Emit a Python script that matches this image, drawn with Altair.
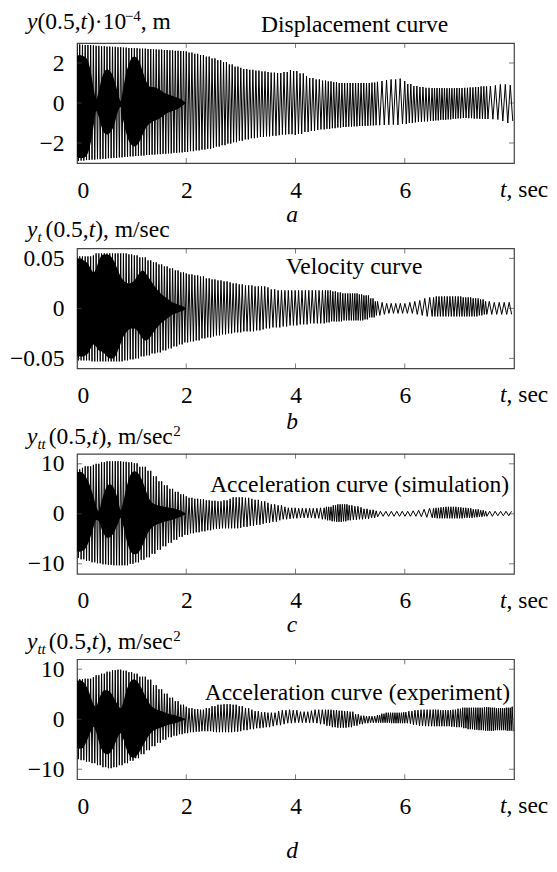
import altair as alt
import pandas as pd

# ---------------- data ----------------
T_ENV = [round(i * 0.1, 1) for i in range(81)]      # envelope sample times (s)
T_IN = [round(i * 0.05, 2) for i in range(41)]      # inner dense-band sample times (s)

# Panel a: displacement (x1e-4 m)
UA = [2.93,2.91,2.90,2.88,2.86,2.84,2.82,2.81,2.79,2.77,
      2.75,2.74,2.72,2.70,2.68,2.67,2.65,2.63,2.61,2.60,
      2.58,2.52,2.46,2.40,2.32,2.23,2.14,2.04,1.93,1.82,
      1.76,1.70,1.66,1.62,1.58,1.55,1.52,1.50,1.55,1.65,
      1.60,1.48,1.35,1.25,1.18,1.12,1.08,1.04,1.00,1.00,
      1.00,1.00,1.00,1.00,1.02,1.06,1.10,1.15,1.18,1.22,
      1.10,0.95,0.85,0.80,0.76,0.75,0.75,0.75,0.74,0.74,
      0.75,0.76,0.78,0.80,0.83,0.83,0.84,0.88,0.93,0.90,
      0.85]
LA = [-2.90,-2.88,-2.85,-2.83,-2.81,-2.79,-2.76,-2.74,-2.72,-2.69,
      -2.67,-2.65,-2.63,-2.60,-2.58,-2.56,-2.54,-2.52,-2.49,-2.47,
      -2.45,-2.41,-2.37,-2.33,-2.29,-2.25,-2.18,-2.11,-2.03,-1.96,
      -1.89,-1.82,-1.76,-1.73,-1.70,-1.67,-1.64,-1.61,-1.58,-1.56,
      -1.60,-1.55,-1.45,-1.40,-1.35,-1.32,-1.29,-1.26,-1.23,-1.20,
      -1.18,-1.17,-1.15,-1.14,-1.12,-1.11,-1.10,-1.09,-1.08,-1.10,
      -1.05,-1.00,-0.97,-0.94,-0.92,-0.89,-0.87,-0.84,-0.82,-0.79,
      -0.77,-0.75,-0.76,-0.78,-0.79,-0.80,-0.81,-0.83,-0.90,-1.00,
      -0.90]
IUA = [2.35,2.4,2.35,2.3,2.1,1.6,0.8,0.2,0.6,1.2,
       1.55,1.67,1.6,1.4,1.0,0.5,0.1,0.8,1.5,1.95,
       2.25,2.33,2.25,2.0,1.6,1.2,0.9,0.8,0.8,0.75,
       0.7,0.6,0.5,0.45,0.4,0.35,0.3,0.25,0.2,0.1,
       0.0]
ILA = [-2.7,-2.75,-2.75,-2.7,-2.5,-2.0,-1.2,-0.4,-0.7,-1.2,
       -1.5,-1.58,-1.5,-1.3,-0.9,-0.4,-0.2,-0.9,-1.5,-1.9,
       -2.1,-2.17,-2.1,-1.9,-1.6,-1.3,-1.1,-1.0,-0.9,-0.85,
       -0.8,-0.7,-0.6,-0.5,-0.45,-0.4,-0.35,-0.3,-0.2,-0.1,
       0.0]
FA = [20,20,20,20,19,19,18,17,17,20,20,12,18,22,20,11]   # cycles/s per 0.5 s

# Panel b: velocity (m/s)
UB = [0.052,0.052,0.052,0.053,0.055,0.055,0.055,0.055,0.055,0.055,
      0.054,0.053,0.051,0.048,0.046,0.044,0.042,0.040,0.038,0.036,
      0.035,0.034,0.033,0.032,0.030,0.029,0.028,0.027,0.026,0.025,
      0.024,0.023,0.023,0.022,0.022,0.021,0.019,0.018,0.018,0.018,
      0.018,0.018,0.018,0.018,0.018,0.018,0.018,0.017,0.016,0.015,
      0.015,0.015,0.014,0.013,0.010,0.007,0.006,0.005,0.005,0.005,
      0.005,0.006,0.007,0.008,0.010,0.011,0.012,0.012,0.012,0.012,
      0.012,0.011,0.011,0.010,0.009,0.007,0.006,0.006,0.006,0.006,
      0.006]
LB = [-0.052,-0.052,-0.052,-0.053,-0.053,-0.053,-0.053,-0.053,-0.053,-0.052,
      -0.051,-0.050,-0.048,-0.047,-0.045,-0.044,-0.042,-0.040,-0.038,-0.036,
      -0.034,-0.033,-0.032,-0.030,-0.029,-0.028,-0.027,-0.026,-0.025,-0.024,
      -0.024,-0.023,-0.023,-0.022,-0.021,-0.020,-0.019,-0.019,-0.018,-0.017,
      -0.017,-0.016,-0.016,-0.015,-0.015,-0.015,-0.014,-0.013,-0.013,-0.012,
      -0.012,-0.012,-0.012,-0.011,-0.009,-0.007,-0.006,-0.005,-0.005,-0.005,
      -0.005,-0.005,-0.006,-0.007,-0.008,-0.008,-0.008,-0.008,-0.008,-0.008,
      -0.008,-0.008,-0.008,-0.008,-0.007,-0.006,-0.006,-0.006,-0.006,-0.006,
      -0.006]
IUB = [0.05,0.05,0.049,0.047,0.045,0.04,0.036,0.04,0.048,0.053,
       0.054,0.054,0.053,0.05,0.045,0.038,0.032,0.028,0.026,0.025,
       0.026,0.028,0.032,0.036,0.038,0.036,0.032,0.028,0.024,0.02,
       0.017,0.014,0.012,0.01,0.008,0.006,0.005,0.004,0.003,0.002,
       0.0]
ILB = [-0.048,-0.048,-0.048,-0.047,-0.045,-0.04,-0.036,-0.038,-0.042,-0.043,
       -0.045,-0.048,-0.05,-0.05,-0.048,-0.042,-0.035,-0.028,-0.024,-0.021,
       -0.02,-0.02,-0.022,-0.026,-0.03,-0.032,-0.031,-0.028,-0.024,-0.02,
       -0.017,-0.014,-0.012,-0.01,-0.008,-0.006,-0.005,-0.004,-0.003,-0.002,
       0.0]
FB = [20,20,20,20,19,18,17,16,16,22,24,12,11,20,22,11]

# Panel c: acceleration, simulation (m/s^2)
UC = [8.9,9.2,9.5,9.8,10.0,10.3,10.5,10.5,10.5,10.4,
      10.3,10.1,9.4,8.6,7.5,6.5,5.7,5.0,4.4,3.9,
      3.5,3.2,3.0,2.9,2.7,2.6,2.5,2.7,3.0,3.3,
      3.3,3.2,3.0,2.8,2.5,2.2,1.9,1.7,1.4,1.2,
      1.2,1.1,1.1,1.1,1.1,1.2,1.4,1.7,1.9,1.9,
      1.7,1.5,1.3,1.0,0.8,0.6,0.5,0.5,0.5,0.5,
      0.5,0.5,0.6,0.7,0.9,1.1,1.2,1.3,1.4,1.4,
      1.3,1.2,1.1,0.9,0.7,0.5,0.5,0.5,0.5,0.5,
      0.5]
LC = [-8.8,-9.1,-9.4,-9.7,-9.9,-10.1,-10.2,-10.3,-10.3,-10.3,
      -10.0,-9.7,-9.2,-8.7,-8.0,-7.2,-6.5,-5.8,-5.2,-4.6,
      -4.2,-3.9,-3.7,-3.5,-3.3,-3.1,-3.0,-2.9,-2.9,-2.9,
      -2.8,-2.6,-2.4,-2.2,-2.0,-1.8,-1.6,-1.3,-1.1,-1.0,
      -0.9,-0.8,-0.8,-0.8,-0.9,-1.1,-1.3,-1.5,-1.6,-1.5,
      -1.3,-1.2,-1.1,-1.0,-0.8,-0.6,-0.5,-0.5,-0.5,-0.5,
      -0.5,-0.5,-0.5,-0.6,-0.7,-0.8,-0.9,-0.9,-0.9,-0.9,
      -0.9,-0.8,-0.8,-0.7,-0.6,-0.5,-0.5,-0.4,-0.4,-0.4,
      -0.4]
IUC = [8.3,8.4,8.2,7.6,6.6,5.2,3.5,1.5,0.5,2.5,
       4.3,5.5,5.9,5.6,4.5,2.8,0.8,2.5,5.0,7.0,
       8.2,8.5,8.3,7.6,6.5,5.0,3.5,2.5,2.0,1.8,
       1.6,1.5,1.4,1.3,1.2,1.1,1.0,0.8,0.6,0.3,
       0.0]
ILC = [-7.5,-7.6,-7.4,-7.0,-6.0,-4.5,-2.8,-1.2,-1.5,-3.0,
       -4.2,-4.8,-4.7,-4.2,-3.2,-2.0,-0.8,-2.5,-5.0,-6.8,
       -7.8,-8.1,-8.0,-7.4,-6.3,-5.0,-3.8,-3.0,-2.5,-2.2,
       -2.0,-1.8,-1.6,-1.5,-1.3,-1.2,-1.0,-0.8,-0.6,-0.3,
       0.0]
FC = [20,20,20,20,19,18,17,16,15,24,18,10,10,22,22,10]

# Panel d: acceleration, experiment (m/s^2)
UD = [8.0,8.0,8.1,8.4,8.8,9.1,9.5,9.8,9.9,9.7,
      9.4,9.1,8.5,7.9,6.8,6.0,5.1,4.3,3.6,2.9,
      2.5,2.2,2.0,1.9,2.2,2.6,2.9,3.0,3.0,2.9,
      2.6,2.2,1.9,1.6,1.4,1.3,1.3,1.6,1.8,1.9,
      1.8,1.5,1.5,1.7,1.9,1.9,1.9,1.8,1.7,1.6,
      1.5,1.0,0.7,0.6,0.6,0.8,1.1,1.3,1.3,1.3,
      1.4,1.6,1.8,1.9,1.9,1.9,1.9,1.8,1.8,1.9,
      2.1,2.3,2.3,2.3,2.3,2.4,2.3,2.2,2.2,2.3,
      2.5]
LD = [-8.0,-8.2,-8.5,-8.8,-9.2,-9.6,-9.8,-9.6,-9.2,-8.8,
      -8.3,-7.8,-7.0,-6.2,-5.4,-4.7,-4.1,-3.6,-3.3,-3.0,
      -2.8,-2.6,-2.5,-2.4,-2.4,-2.5,-2.6,-2.6,-2.6,-2.5,
      -2.4,-2.2,-2.0,-1.8,-1.7,-1.6,-1.4,-1.2,-1.0,-0.8,
      -0.7,-0.7,-0.7,-0.7,-0.8,-1.0,-1.3,-1.6,-1.7,-1.7,
      -1.6,-1.3,-1.0,-0.8,-0.7,-0.7,-0.7,-0.7,-0.8,-0.8,
      -0.8,-0.9,-1.1,-1.3,-1.4,-1.4,-1.4,-1.4,-1.4,-1.5,
      -1.6,-1.8,-2.0,-2.1,-2.2,-2.3,-2.3,-2.2,-2.2,-2.3,
      -2.4]
IUD = [7.6,7.8,7.6,7.0,6.0,4.5,3.0,2.5,4.0,5.2,
       5.8,5.8,5.5,4.8,3.8,2.8,2.2,3.5,5.5,7.0,
       7.8,8.0,7.6,6.8,5.8,4.6,3.6,2.8,2.3,2.0,
       1.8,1.6,1.4,1.2,1.0,0.9,0.8,0.6,0.4,0.2,
       0.0]
ILD = [-5.7,-5.9,-5.8,-5.0,-3.8,-2.5,-1.5,-2.5,-4.5,-6.0,
       -6.8,-7.0,-6.8,-6.0,-4.8,-3.5,-2.8,-4.0,-5.8,-7.0,
       -7.6,-7.7,-7.2,-6.4,-5.4,-4.4,-3.5,-2.8,-2.3,-2.0,
       -1.8,-1.6,-1.4,-1.2,-1.0,-0.9,-0.8,-0.6,-0.4,-0.2,
       0.0]
FD = [20,20,20,20,19,18,17,15,15,20,20,25,18,22,25,28]

X_TICKS = [0, 2, 4, 6]

# ---------------- styling ----------------
FONT = "Liberation Serif"
FS = 23.5
SS = 15
W = 437
H = 120
BOX = "#444444"
LW = 1.0

NW = {'0':500,'1':500,'2':500,'3':500,'4':500,'5':500,'6':500,'7':500,'8':500,'9':500,
      '(':333,')':333,'.':250,',':250,' ':250,'\u00b7':250,'\u2212':564,'m':778,'/':278,
      's':389,'e':444,'c':444}
IW = {'y':444,'t':278}


def tw(s, italic, size):
    tab = IW if italic else NW
    return sum(tab.get(ch, 500) for ch in s) / 1000.0 * size


def rich(pieces, x0, base):
    """pieces: (text, italic, size, dy, dx_before)"""
    layers = []
    x = x0
    for text, italic, size, dy, dxb in pieces:
        x += dxb
        layers.append(
            alt.Chart(pd.DataFrame({"k": [0]})).mark_text(
                text=text, font=FONT, fontSize=size,
                fontStyle="italic" if italic else "normal",
                align="left", baseline="alphabetic", color="black"
            ).encode(x=alt.value(x), y=alt.value(base + dy))
        )
        x += tw(text, italic, size)
    return layers


def plain(text, x, y, italic=False, align="left"):
    return alt.Chart(pd.DataFrame({"k": [0]})).mark_text(
        text=text, font=FONT, fontSize=FS,
        fontStyle="italic" if italic else "normal",
        align=align, baseline="alphabetic", color="black"
    ).encode(x=alt.value(x), y=alt.value(y))


def zigzag(up, lo, fr):
    ts, vs = [], []
    t, k = 0.0, 0
    while t <= 8.0 + 1e-9:
        i = min(int(round(t * 10)), 80)
        vs.append(up[i] if k % 2 == 0 else lo[i])
        ts.append(round(t, 5))
        t += 0.5 / fr[min(int(t / 0.5), 15)]
        k += 1
    return pd.DataFrame({"t": ts, "v": vs})


def panel(up, lo, fr, iup, ilo, dom, yvals, title_pieces, title_base,
          ann, letter, letter_base, anchor=False):
    xsc = alt.Scale(domain=[0, 8], nice=False, zero=False)
    ysc = alt.Scale(domain=dom, nice=False, zero=False)
    xax = alt.Axis(values=X_TICKS, title=None, ticks=False, tickSize=0, domain=False,
                   grid=False, labelFlush=True, labelFont=FONT, labelFontSize=FS,
                   labelColor="black", labelPadding=15)
    yax = alt.Axis(values=yvals, title=None, ticks=False, tickSize=0, domain=False,
                   grid=False, format="~f", labelFont=FONT, labelFontSize=FS,
                   labelColor="black", labelPadding=13)

    sig = zigzag(up, lo, fr)
    inner = pd.DataFrame({"t": T_IN, "hi": iup, "lo": ilo})
    xt = pd.DataFrame({"t": [2, 4, 6]})
    yt = pd.DataFrame({"v": yvals})

    area = alt.Chart(inner).mark_area(color="black", interpolate="monotone", clip=True).encode(
        x=alt.X("t:Q", scale=xsc, axis=xax),
        y=alt.Y("hi:Q", scale=ysc, axis=yax),
        y2="lo:Q",
    )
    line = alt.Chart(sig).mark_line(color="black", strokeWidth=LW, clip=True).encode(
        x=alt.X("t:Q", scale=xsc, axis=xax),
        y=alt.Y("v:Q", scale=ysc, axis=yax),
    )
    tb = alt.Chart(xt).mark_tick(orient="vertical", size=5, thickness=1, color=BOX).encode(
        x=alt.X("t:Q", scale=xsc, axis=xax), y=alt.value(H - 2.5))
    tt = alt.Chart(xt).mark_tick(orient="vertical", size=5, thickness=1, color=BOX).encode(
        x=alt.X("t:Q", scale=xsc, axis=xax), y=alt.value(2.5))
    tl = alt.Chart(yt).mark_tick(orient="horizontal", size=5, thickness=1, color=BOX).encode(
        y=alt.Y("v:Q", scale=ysc, axis=yax), x=alt.value(2.5))
    tr = alt.Chart(yt).mark_tick(orient="horizontal", size=5, thickness=1, color=BOX).encode(
        y=alt.Y("v:Q", scale=ysc, axis=yax), x=alt.value(W - 2.5))

    layers = [area, line, tb, tt, tl, tr]
    layers += rich(title_pieces, -50, title_base)
    layers.append(ann)
    layers += rich([("t", True, FS, 0, 0), (", sec", False, FS, 0, 0)], 423, 154)
    layers.append(plain(letter, 215, letter_base, italic=True, align="center"))
    if anchor:
        layers.append(
            alt.Chart(pd.DataFrame({"k": [0]})).mark_rule(strokeOpacity=0, opacity=0).encode(
                x=alt.value(-68), x2=alt.value(-68), y=alt.value(-34), y2=alt.value(0))
        )
    return alt.layer(*layers).properties(width=W, height=H)


title_a = [("y", True, FS, 0, 0), ("(0.5,", False, FS, 0, 0), ("t", True, FS, 0, 0),
           (")\u00b710", False, FS, 0, 0), ("\u22124", False, SS, -7.5, 0.5),
           (", m", False, FS, 0, 0)]
title_b = [("y", True, FS, 0, 0), ("t", True, SS, 5, 0), ("(0.5,", False, FS, 0, 4),
           ("t", True, FS, 0, 0), ("), m/sec", False, FS, 0, 0)]
title_cd = [("y", True, FS, 0, 0), ("tt", True, SS, 5, 0), ("(0.5,", False, FS, 0, 3),
            ("t", True, FS, 0, 0), ("), m/sec", False, FS, 0, 0), ("2", False, SS, -8, 0.5)]

pa = panel(UA, LA, FA, IUA, ILA, [-3, 3], [-2, 0, 2], title_a, -14.5,
           plain("Displacement curve", 184, -10.7), "a", 178.5, anchor=True)
pb = panel(UB, LB, FB, IUB, ILB, [-0.06, 0.06], [-0.05, 0, 0.05], title_b, -11,
           plain("Velocity curve", 209, 25.7), "b", 181)
pc = panel(UC, LC, FC, IUC, ILC, [-12, 12], [-10, 0, 10], title_cd, -10,
           plain("Acceleration curve (simulation)", 432, 38, align="right"), "c", 178.5)
pd_ = panel(UD, LD, FD, IUD, ILD, [-12, 12], [-10, 0, 10], title_cd, -10,
            plain("Acceleration curve (experiment)", 433, 41, align="right"), "d", 199)

chart = alt.vconcat(pa, pb, pc, pd_, spacing=85.4, bounds="flush").properties(
    padding={"left": 0, "top": 0, "right": 0, "bottom": 0},
).configure_view(stroke=BOX, strokeWidth=1.2)

chart.save("out.html", embed_options={"renderer": "svg", "actions": False})
